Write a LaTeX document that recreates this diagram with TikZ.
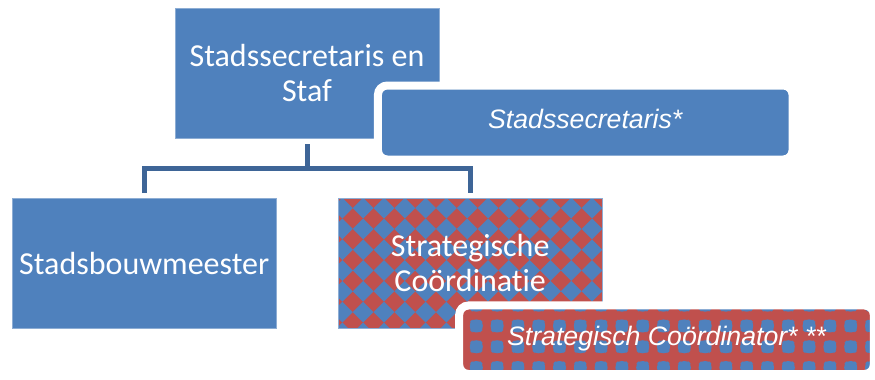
\documentclass[tikz,border=0pt]{standalone}
\usepackage{fontspec}
\setmainfont{Carlito}[Ligatures=NoCommon]
\newfontfamily\arialfont{Liberation Sans}
\usetikzlibrary{shadows}

\definecolor{boxblue}{HTML}{4F81BD}
\definecolor{chkred}{HTML}{C0504D}
\definecolor{linkblue}{HTML}{3E6597}

\tikzset{
	orgbox/.style={fill=boxblue, draw=boxblue!65!white, line width=0.6pt, inner sep=0pt,
		minimum width=198pt, minimum height=97pt, text=white, align=center,
		font=\fontsize{24}{26.25}\selectfont},
	rolebox/.style={fill=boxblue, draw=white, line width=6pt, rounded corners=7pt, inner sep=0pt,
		minimum width=311pt, text=white, text depth=5.5pt,
		font=\arialfont\itshape\fontsize{20}{24}\selectfont,
		drop shadow={shadow xshift=1.2pt, shadow yshift=-1.8pt, opacity=0.4}},
	checker/.style={fill=chkred, path picture={
			\foreach \i in {-11,...,11}
			\foreach \j in {-4,...,4}
			\fill[boxblue] (path picture bounding box.center) ++(\i*20.8-3,\j*20.8-7)
			+(10.4,0) -- +(0,10.4) -- +(-10.4,0) -- +(0,-10.4) -- cycle;}},
	link/.style={draw=linkblue, line width=3.75pt}
}

\begin{document}
\begin{tikzpicture}[x=0.75pt,y=0.75pt,yscale=-1,xscale=1]
	\useasboundingbox (0,0) rectangle (875,379);
	
	%Shape: Rectangle [top]
	\node[orgbox] (topbox) at (307,73.5) {Stadssecretaris en\\Staf};
	%Shape: Rectangle [left]
	\node[orgbox] (leftbox) at (144.25,263.25) {Stadsbouwmeester};
	%Shape: Rectangle [middle, checkered]
	\node[orgbox, checker] (midbox) at (470.2,263.5) {Strategische\\Coördinatie};
	
	%Straight Lines [levels of the connector]
	\coordinate (toplevel) at (0,144);
	\coordinate (barlevel) at (0,168);
	\coordinate (footlevel) at (0,193);
	\coordinate (topfoot) at (topbox.south |- toplevel);
	\coordinate (bar) at (topbox.south |- barlevel);
	\coordinate (leftfoot) at (leftbox.north |- footlevel);
	\coordinate (midfoot) at (midbox.north |- footlevel);
	\draw[link] (topfoot) -- (bar);
	\draw[link] (leftfoot) |- (bar) -| (midfoot);
	
	%Shape: Rounded Rectangle [roles]
	\node[rolebox, minimum height=55.5pt] (secbox) at (585.25,122.5) {Stadssecretaris*};
	\node[rolebox, checker, minimum height=51.4pt] (coordbox) at (666.5,339.75) {Strategisch Coördinator* **};
	
\end{tikzpicture}
\end{document}
